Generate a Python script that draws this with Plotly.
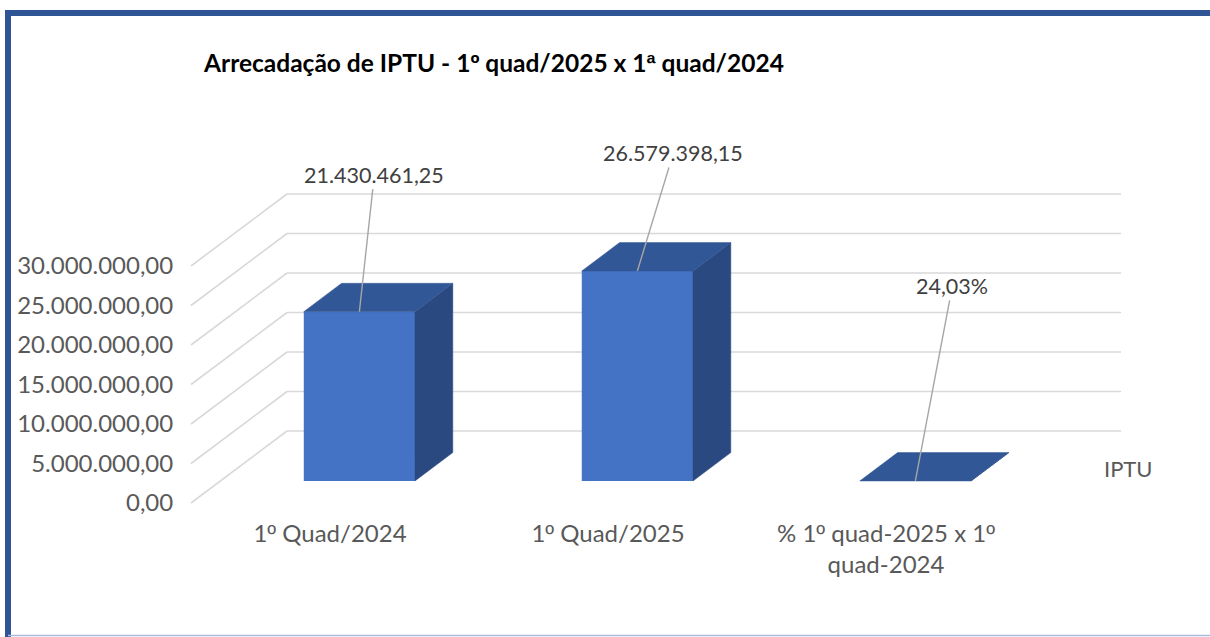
import plotly.graph_objects as go

# ---------------- data ----------------
categories = ["1º Quad/2024", "1º Quad/2025", "% 1º quad-2025 x 1º<br>quad-2024"]
values = [21430461.25, 26579398.15, 0.2403]
value_labels = ["21.430.461,25", "26.579.398,15", "24,03%"]
series_name = "IPTU"
y_ticks = [0, 5e6, 10e6, 15e6, 20e6, 25e6, 30e6]
title_text = "Arrecadação de IPTU - 1º quad/2025 x 1ª quad/2024"

# ---------------- style / geometry ----------------
FONT = "Lato"
ORD_FONT = "Liberation Sans"   # ordinal indicators with underline, as in the original
W, H = 1210, 637
L, R, T, B = 180, 1190, 110, 517
PX_PER_CAT = 278.0        # pixels per category unit
CAT0_PX = 330.0           # pixel x of category 0 (front floor)
PX_PER_M = 7.9            # pixels per 1,000,000
ZERO_PX = 503.0           # pixel y of value 0 at the front floor edge

DX = 96 / PX_PER_CAT              # depth shift in x (category units) for full depth
DY = 72 / PX_PER_M * 1e6          # depth shift in y (value units) for full depth
Z0, Z1 = 0.306, 0.70              # front / back depth of bars
HALF_W = 0.2

FRONT = "#4472C4"
TOP = "#325796"
SIDE = "#2A4980"
GRID = "#D9D9D9"
TXT = "#595959"
LBL = "#404040"

xr = [(L - CAT0_PX) / PX_PER_CAT, (R - CAT0_PX) / PX_PER_CAT]
yr = [-(B - ZERO_PX) / PX_PER_M * 1e6, (ZERO_PX - T) / PX_PER_M * 1e6]


def ordinals(s):
    for ch in ("º", "ª"):
        s = s.replace(ch, f'<span style="font-family:{ORD_FONT}">{ch}</span>')
    return s


def proj(x, v, z):
    return x + DX * z, v + DY * z


fig = go.Figure()
shapes = []

# walls: back wall horizontal lines and left wall diagonals (below traces)
x_floor_l, x_floor_r = -0.5, len(categories) - 0.5
for v in y_ticks:
    bx0, by = proj(x_floor_l, v, 1)
    bx1, _ = proj(x_floor_r, v, 1)
    fx, fy = proj(x_floor_l, v, 0)
    shapes.append(dict(type="line", xref="x", yref="y", x0=bx0, x1=bx1, y0=by, y1=by,
                       line=dict(color=GRID, width=1.6), layer="below"))
    shapes.append(dict(type="line", xref="x", yref="y", x0=fx, x1=bx0, y0=fy, y1=by,
                       line=dict(color=GRID, width=1.6), layer="below"))

# bars: front faces through go.Bar
fx_centers = [i + DX * Z0 for i in range(len(categories))]
fig.add_trace(go.Bar(x=fx_centers, y=values, base=[DY * Z0] * len(values), width=2 * HALF_W,
                     marker=dict(color=FRONT, line=dict(width=0)), name=series_name,
                     showlegend=False, hoverinfo="skip"))

# top & side faces
for i, v in enumerate(values):
    c = i
    top = [proj(c - HALF_W, v, Z0), proj(c + HALF_W, v, Z0), proj(c + HALF_W, v, Z1), proj(c - HALF_W, v, Z1)]
    side = [proj(c + HALF_W, 0, Z0), proj(c + HALF_W, v, Z0), proj(c + HALF_W, v, Z1), proj(c + HALF_W, 0, Z1)]
    for poly, col in ((side, SIDE), (top, TOP)):
        xs = [p[0] for p in poly] + [poly[0][0]]
        ys = [p[1] for p in poly] + [poly[0][1]]
        fig.add_trace(go.Scatter(x=xs, y=ys, mode="lines", fill="toself", fillcolor=col,
                                 line=dict(color=col, width=0.5), showlegend=False, hoverinfo="skip"))

# data labels with leader lines
label_offsets = [(15, -137), (36, -118), (37, -195)]
annotations = []
for i, v in enumerate(values):
    ax, ay = label_offsets[i]
    x, y = proj(i, v, Z0)
    annotations.append(dict(x=x, y=y, xref="x", yref="y", text=value_labels[i], showarrow=True,
                            arrowhead=0, arrowwidth=1.4, arrowcolor="#A6A6A6", ax=ax, ay=ay,
                            standoff=0, font=dict(family=FONT, size=21.5, color=LBL)))


def px(xp):
    return (xp - L) / (R - L)


def py(yp):
    return (B - yp) / (B - T)


# depth-axis (series) label
annotations.append(dict(x=px(1128), y=py(468), xref="paper", yref="paper",
                        xanchor="center", yanchor="middle",
                        text=series_name, showarrow=False,
                        font=dict(family=FONT, size=22, color=TXT)))

# frame around chart
shapes += [
    dict(type="line", xref="paper", yref="paper", x0=px(5), x1=px(1215), y0=py(13), y1=py(13),
         line=dict(color="#2F5597", width=6)),
    dict(type="line", xref="paper", yref="paper", x0=px(8), x1=px(8), y0=py(10), y1=py(640),
         line=dict(color="#2F5597", width=6)),
    dict(type="line", xref="paper", yref="paper", x0=px(8), x1=px(1215), y0=py(635.5), y1=py(635.5),
         line=dict(color="#A9BCE0", width=1.5)),
]

fig.update_layout(
    width=W, height=H,
    margin=dict(l=L, r=W - R, t=T, b=H - B),
    paper_bgcolor="white", plot_bgcolor="white",
    separators=",.",
    title=dict(text=ordinals(title_text), x=204 / W, xanchor="left", xref="container",
               y=1 - 63 / H, yanchor="middle", yref="container",
               font=dict(family=FONT, size=24.5, color="#000000", weight="bold")),
    xaxis=dict(range=xr, showgrid=False, zeroline=False, showline=False,
               tickvals=list(range(len(categories))), ticktext=[ordinals(c) for c in categories],
               ticks="", tickfont=dict(family=FONT, size=24, color=TXT), fixedrange=True),
    yaxis=dict(range=yr, showgrid=False, zeroline=False, showline=False,
               tickvals=y_ticks, tickformat=",.2f", ticks="outside", ticklen=1,
               tickcolor="rgba(0,0,0,0)",
               tickfont=dict(family=FONT, size=24, color=TXT), fixedrange=True),
    shapes=shapes,
    annotations=annotations,
    showlegend=False,
)

fig.write_html("out.html", config={"displayModeBar": False},
               post_script="document.body.style.margin='0';document.body.style.overflow='hidden';")
